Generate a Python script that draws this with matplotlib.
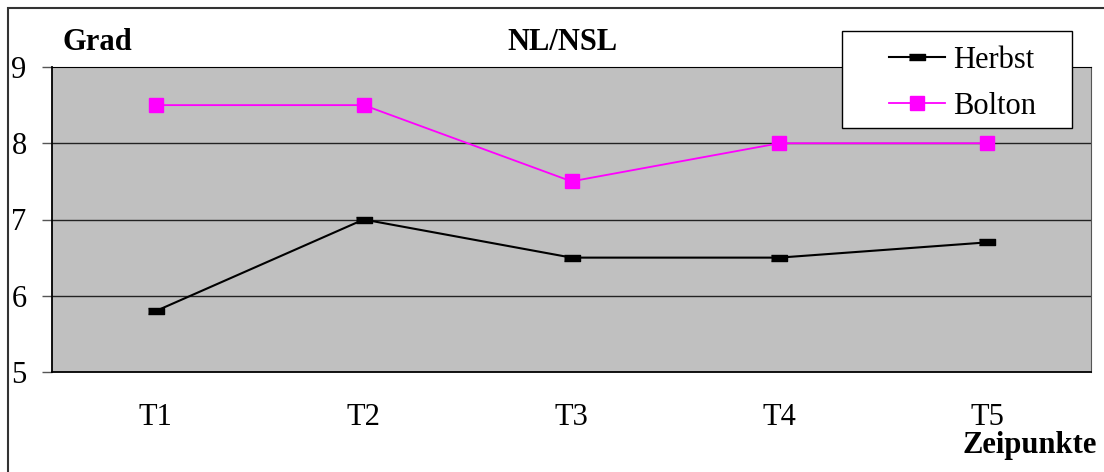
import matplotlib.pyplot as plt
from matplotlib.patches import Rectangle
from matplotlib.lines import Line2D

plt.rcParams['font.family'] = ['Liberation Serif', 'DejaVu Serif']

zeitpunkte = ["T1", "T2", "T3", "T4", "T5"]
herbst = [5.8, 7.0, 6.5, 6.5, 6.7]
bolton = [8.5, 8.5, 7.5, 8.0, 8.0]
y_ticks = [5, 6, 7, 8, 9]

FS = 22
W, H = 1104, 472
# wide flat bar used as the herbst marker
bar_marker = [(-1.3, -0.45), (1.3, -0.45), (1.3, 0.45), (-1.3, 0.45)]

fig = plt.figure(figsize=(W / 100, H / 100), dpi=100)
ax = fig.add_axes([52 / W, 1 - 372 / H, 1039 / W, 305 / H])

# outer chart frame (only the top and left edge are inside the image)
fig.patches.append(Rectangle((8 / W, -0.1), 1.2, 1 - 8 / H + 0.1,
                             transform=fig.transFigure, fill=False,
                             edgecolor='#333333', linewidth=1.5))

ax.set_facecolor('#c0c0c0')
x = range(len(zeitpunkte))
ax.plot(x, herbst, color='black', linewidth=1.5, marker=bar_marker,
        markersize=12, zorder=3)
ax.plot(x, bolton, color='#ff00ff', linewidth=1.3, marker='s', markersize=9.5,
        zorder=3)

ax.set_xlim(-0.5, 4.5)
ax.set_ylim(5, 9)
ax.set_yticks(y_ticks)
ax.set_yticklabels([str(v) for v in y_ticks], fontsize=FS)
ax.set_xticks(list(x))
ax.set_xticklabels(zeitpunkte, fontsize=FS)
ax.tick_params(axis='x', length=0, pad=22)
ax.tick_params(axis='y', length=7.2, width=1, pad=11, color='#555555')
for yv in [6, 7, 8]:
    ax.axhline(yv, color='#222222', linewidth=1, zorder=1)
ax.axhline(9, color='black', linewidth=1.2, zorder=1)
for side in ['left', 'bottom']:
    ax.spines[side].set_color('black')
    ax.spines[side].set_linewidth(1.3)
ax.spines['right'].set_color('#555555')
ax.spines['top'].set_color('black')

fig.text(97 / W, 1 - 43 / H, 'Grad', fontsize=FS, fontweight='bold',
         ha='center', va='center')
fig.text(562 / W, 1 - 43 / H, 'NL/NSL', fontsize=FS, fontweight='bold',
         ha='center', va='center')
fig.text(1030 / W, 1 - 446 / H, 'Zeipunkte', fontsize=FS, fontweight='bold',
         ha='center', va='center')

# legend box drawn separately, entries placed inside it
fig.patches.append(Rectangle((842 / W, 1 - 128 / H), 230 / W, 97 / H,
                             transform=fig.transFigure, facecolor='white',
                             edgecolor='black', linewidth=1, zorder=5))
h1 = Line2D([], [], color='black', linewidth=1.5, marker=bar_marker,
            markersize=11)
h2 = Line2D([], [], color='#ff00ff', linewidth=1.3, marker='s', markersize=9.5)
leg = fig.legend([h1, h2], ['Herbst', 'Bolton'], loc='upper left',
                 bbox_to_anchor=(889 / W, 1 - 46 / H), fontsize=FS,
                 frameon=False, handlelength=1.83, handletextpad=0.26,
                 borderpad=0, labelspacing=0.55, borderaxespad=0)
leg.set_zorder(6)

fig.savefig('out.png', dpi=100)
